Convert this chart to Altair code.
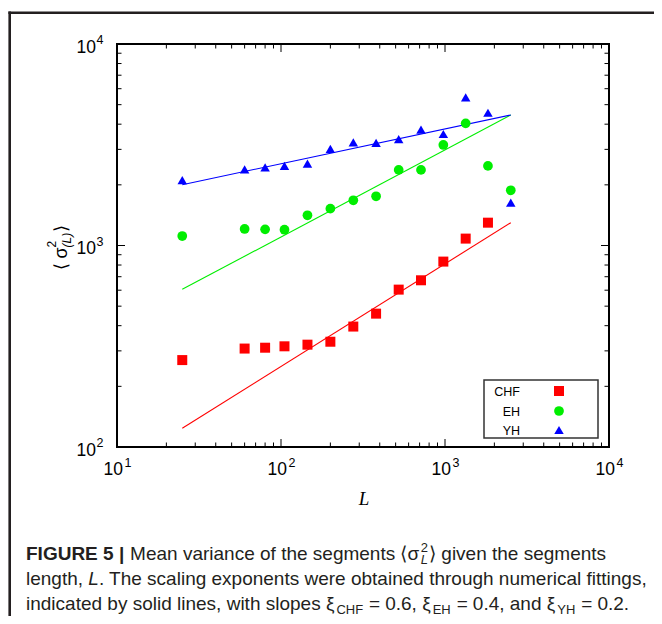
import altair as alt
import pandas as pd

# ---- data ----
L_VALUES = [25, 60, 80, 105, 145, 200, 276, 380, 522, 714, 977, 1337, 1828, 2518]
CHF = [270, 308, 311, 316, 322, 333, 396, 459, 604, 672, 832, 1082, 1298]
EH = [1114, 1208, 1203, 1198, 1412, 1524, 1677, 1755, 2372, 2372, 3155, 4038, 2483, 1879]
YH = [2113, 2389, 2444, 2483, 2548, 3013, 3252, 3227, 3369, 3758, 3575, 5434, 4559, 1631]
FIT_L = [25, 2518]
CHF_FIT = [124, 1298]
EH_FIT = [606, 4443]
YH_FIT = [2003, 4443]
SERIES = ["CHF", "EH", "YH"]
COLORS = ["#ff0000", "#00ee00", "#0000ff"]
SHAPES = ["square", "circle", "triangle-up"]
SIZES = [100, 90, 110]
X_MAJOR = [10, 100, 1000, 10000]
X_EXP = ["1", "2", "3", "4"]
Y_MAJOR = [100, 1000, 10000]
Y_EXP = ["2", "3", "4"]

W, H = 492, 403
FONT = "Liberation Sans"
INK = "#231f20"

rows = []
for s, vals in zip(SERIES, [CHF, EH, YH]):
    for l, v in zip(L_VALUES, vals):
        rows.append({"L": l, "value": v, "series": s})
pts = pd.DataFrame(rows)

fit_rows = []
for s, vals in zip(SERIES, [CHF_FIT, EH_FIT, YH_FIT]):
    for l, v in zip(FIT_L, vals):
        fit_rows.append({"L": l, "value": v, "series": s})
fits = pd.DataFrame(fit_rows)

xs = alt.Scale(type="log", domain=[10, 10000], nice=False)
ys = alt.Scale(type="log", domain=[100, 10000], nice=False)
cscale = alt.Scale(domain=SERIES, range=COLORS)
sscale = alt.Scale(domain=SERIES, range=SHAPES)
zscale = alt.Scale(domain=SERIES, range=SIZES)

one = pd.DataFrame({"k": [0]})

layers = []

# outer figure frame (left and top edges visible)
layers.append(alt.Chart(one).mark_rule(color=INK, strokeWidth=2.6).encode(
    x=alt.value(-107.3), y=alt.value(-32.5), y2=alt.value(H + 200)))
layers.append(alt.Chart(one).mark_rule(color=INK, strokeWidth=2.6).encode(
    x=alt.value(-108.6), x2=alt.value(W + 80), y=alt.value(-31.2)))

# fit lines
layers.append(alt.Chart(fits).mark_line(strokeWidth=1.1).encode(
    x=alt.X("L:Q", scale=xs, axis=None),
    y=alt.Y("value:Q", scale=ys, axis=None),
    color=alt.Color("series:N", scale=cscale, legend=None),
    detail="series:N"))

# points
layers.append(alt.Chart(pts).mark_point(filled=True, opacity=1).encode(
    x=alt.X("L:Q", scale=xs, axis=None),
    y=alt.Y("value:Q", scale=ys, axis=None),
    color=alt.Color("series:N", scale=cscale, legend=None),
    shape=alt.Shape("series:N", scale=sscale, legend=None),
    size=alt.Size("series:O", scale=zscale, legend=None)))

# ticks (inward, on all four sides)
x_minor = pd.DataFrame({"v": [m * 10 ** e for e in (1, 2, 3) for m in range(2, 10)]})
y_minor = pd.DataFrame({"v": [m * 10 ** e for e in (2, 3) for m in range(2, 10)]})
x_major = pd.DataFrame({"v": X_MAJOR, "base": ["10"] * 4, "exp": X_EXP})
y_major = pd.DataFrame({"v": Y_MAJOR, "base": ["10"] * 3, "exp": Y_EXP})

for df, ln in ((x_major, 8), (x_minor, 4.5)):
    layers.append(alt.Chart(df).mark_rule(color="black", strokeWidth=1).encode(
        x=alt.X("v:Q", scale=xs), y=alt.value(H), y2=alt.value(H - ln)))
    layers.append(alt.Chart(df).mark_rule(color="black", strokeWidth=1).encode(
        x=alt.X("v:Q", scale=xs), y=alt.value(0), y2=alt.value(ln)))
for df, ln in ((y_major, 8), (y_minor, 4.5)):
    layers.append(alt.Chart(df).mark_rule(color="black", strokeWidth=1).encode(
        y=alt.Y("v:Q", scale=ys), x=alt.value(0), x2=alt.value(ln)))
    layers.append(alt.Chart(df).mark_rule(color="black", strokeWidth=1).encode(
        y=alt.Y("v:Q", scale=ys), x=alt.value(W), x2=alt.value(W - ln)))

# tick labels 10^n
layers.append(alt.Chart(x_major).mark_text(align="right", baseline="alphabetic", font=FONT, fontSize=17.5, dx=6, color="black").encode(
    x=alt.X("v:Q", scale=xs), y=alt.value(H + 28), text="base:N"))
layers.append(alt.Chart(x_major).mark_text(align="left", baseline="alphabetic", font=FONT, fontSize=12.5, dx=7.5, color="black").encode(
    x=alt.X("v:Q", scale=xs), y=alt.value(H + 20), text="exp:N"))
layers.append(alt.Chart(y_major).mark_text(align="right", baseline="alphabetic", font=FONT, fontSize=17.5, dy=8.5, color="black").encode(
    y=alt.Y("v:Q", scale=ys), x=alt.value(-21), text="base:N"))
layers.append(alt.Chart(y_major).mark_text(align="left", baseline="alphabetic", font=FONT, fontSize=12.5, dy=0, color="black").encode(
    y=alt.Y("v:Q", scale=ys), x=alt.value(-20.5), text="exp:N"))

# axis titles
layers.append(alt.Chart(one).mark_text(font="Liberation Serif", fontStyle="italic", fontSize=19, baseline="alphabetic", color="black").encode(
    x=alt.value(W / 2 + 1), y=alt.value(H + 58), text=alt.value("L")))

ytitle = [("\u27e8", -24, 0.5, 18, "normal"), ("\u03c3", -12.5, 0, 18, "normal"),
          ("2", -1.5, -11, 12, "normal"), ("(L)", -1.5, 4.5, 12, "italic"),
          ("\u27e9", 14, 0.5, 18, "normal")]
for t, dx, dy, fs, st in ytitle:
    layers.append(alt.Chart(one).mark_text(font=FONT, fontSize=fs, fontStyle=st, angle=270, align="left",
                                           baseline="alphabetic", dx=dx, dy=dy, color="black").encode(
        x=alt.value(-50.5), y=alt.value(202), text=alt.value(t)))

# legend box
LEG_ROWS = [347, 367, 386]
layers.append(alt.Chart(one).mark_rect(fill="white", stroke="#333333", strokeWidth=1.5).encode(
    x=alt.value(367), x2=alt.value(481), y=alt.value(336), y2=alt.value(394)))
for s, ry in zip(SERIES, LEG_ROWS):
    d = pd.DataFrame({"series": [s]})
    layers.append(alt.Chart(d).mark_text(align="right", baseline="alphabetic", font=FONT, fontSize=12.5, color="black").encode(
        x=alt.value(403), y=alt.value(ry + 4.5), text="series:N"))
    layers.append(alt.Chart(d).mark_point(filled=True, opacity=1).encode(
        x=alt.value(442), y=alt.value(ry),
        color=alt.Color("series:N", scale=cscale, legend=None),
        shape=alt.Shape("series:N", scale=sscale, legend=None),
        size=alt.Size("series:O", scale=zscale, legend=None)))

# caption: segments laid out one after another using approximate Arial advance widths
ADV = {" ": 278, ",": 278, ".": 278, "|": 280, "(": 333, ")": 333, "=": 584, "\u27e8": 390, "\u27e9": 390,
       "\u03c3": 560, "\u03be": 500}
ADV.update({d: 556 for d in "0123456789"})
ADV.update(dict(zip("ABCDEFGHIJKLMNOPQRSTUVWXYZ",
                    [667, 667, 722, 722, 667, 611, 778, 722, 278, 500, 667, 556, 833, 722, 778, 667, 778, 722,
                     667, 611, 722, 667, 944, 667, 667, 611])))
ADV.update(dict(zip("abcdefghijklmnopqrstuvwxyz",
                    [556, 556, 500, 556, 556, 278, 556, 556, 222, 222, 500, 222, 833, 556, 556, 556, 556, 333,
                     500, 278, 556, 500, 722, 500, 500, 500])))


def tw(t, fs):
    return sum(ADV.get(c, 556) for c in t) * fs / 1000.0


CS = 19      # caption size
SS = 13      # sub/superscript size
X0 = 26 - 117
B1, B2, B3 = 515.5, 541, 566
# (text, size, weight, style, baseline shift, advance?, gap after)
LINES = [
    (B1, [("FIGURE 5 |", CS, "bold", "normal", 0, True, 0),
          (" Mean variance of the segments \u27e8\u03c3", CS, "normal", "normal", 0, True, -3),
          ("2", SS, "normal", "normal", -7.5, False, 0),
          ("L", SS, "normal", "italic", 4.5, True, 1),
          ("\u27e9 given the segments", CS, "normal", "normal", 0, True, 0)]),
    (B2, [("length, ", CS, "normal", "normal", 0, True, 0),
          ("L", CS, "normal", "italic", 0, True, 0),
          (". The scaling exponents were obtained through numerical fittings,", CS, "normal", "normal", 0, True, 0)]),
    (B3, [("indicated by solid lines, with slopes \u03be", CS, "normal", "normal", 0, True, 1),
          ("CHF", SS, "normal", "normal", 3.5, True, 6),
          ("=", CS, "normal", "normal", 0, True, 5),
          ("0.6, \u03be", CS, "normal", "normal", 0, True, 1),
          ("EH", SS, "normal", "normal", 3.5, True, 6),
          ("=", CS, "normal", "normal", 0, True, 5),
          ("0.4, and \u03be", CS, "normal", "normal", 0, True, 1),
          ("YH", SS, "normal", "normal", 3.5, True, 6),
          ("=", CS, "normal", "normal", 0, True, 5),
          ("0.2.", CS, "normal", "normal", 0, True, 0)]),
]
for base, segs in LINES:
    x = X0
    for t, fs, fw, st, sh, adv, gap in segs:
        layers.append(alt.Chart(one).mark_text(align="left", baseline="alphabetic", font=FONT, fontSize=fs,
                                               fontWeight=fw, fontStyle=st, color=INK).encode(
            x=alt.value(x), y=alt.value(base + sh), text=alt.value(t)))
        if adv:
            x += tw(t, fs) * (1.06 if fw == "bold" else 1.0) + gap

chart = alt.layer(*layers).properties(
    width=W, height=H,
    autosize=alt.AutoSizeParams(type="none"),
    padding={"left": 109, "top": 36, "right": 45, "bottom": 169},
).configure_view(stroke="black", strokeWidth=2)

chart.save("out.html", embed_options={"renderer": "svg", "actions": False})
